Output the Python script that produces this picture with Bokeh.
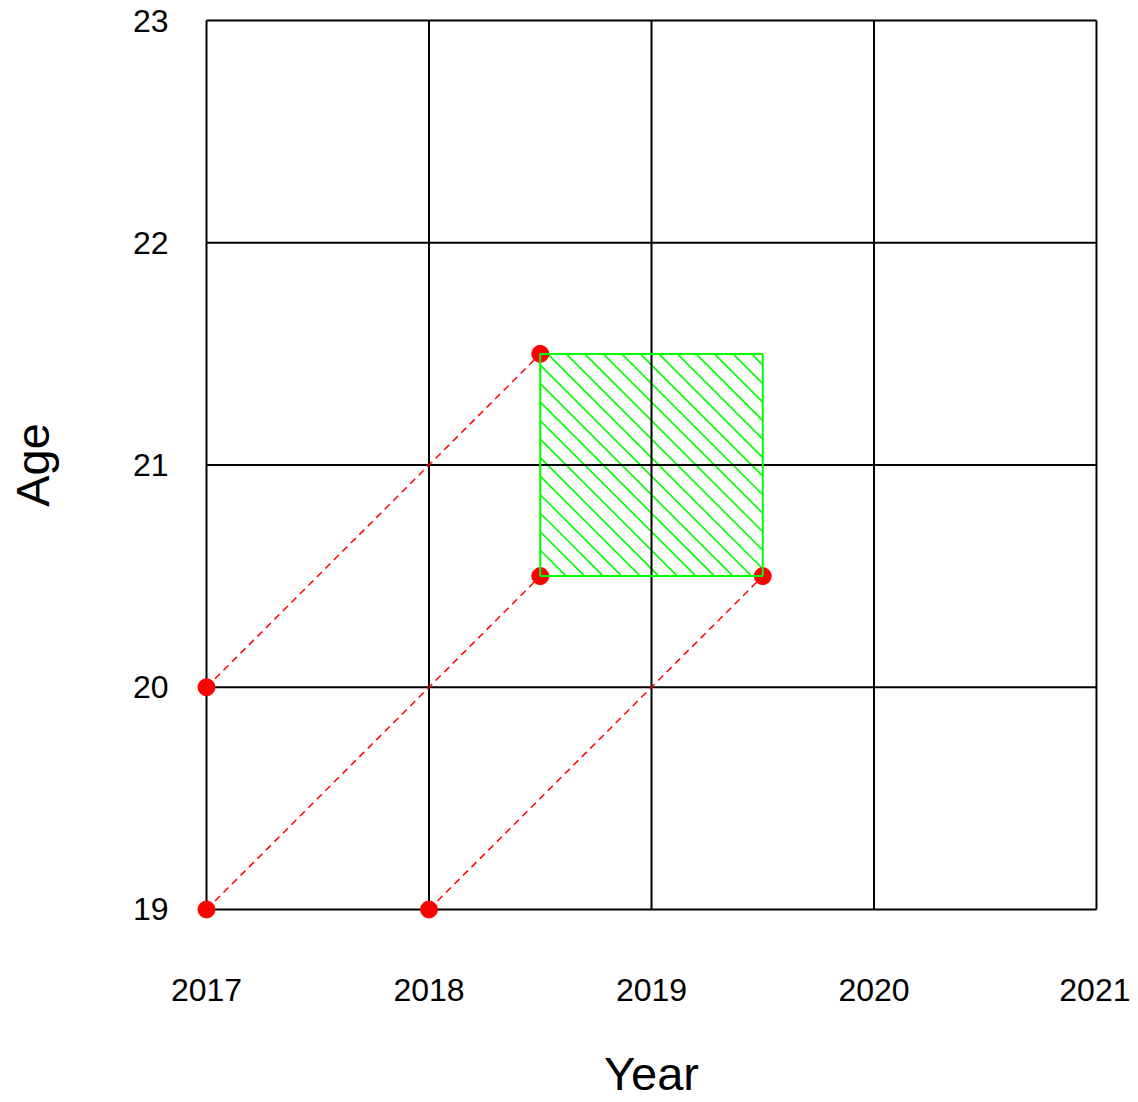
import numpy as np
from bokeh.plotting import figure
from bokeh.models import FixedTicker, Range1d
from bokeh.embed import file_html
from bokeh.resources import INLINE

years = [2017, 2018, 2019, 2020, 2021]
ages = [19, 20, 21, 22, 23]

point_x = [2017, 2017, 2018, 2018.5, 2018.5, 2019.5]
point_y = [20, 19, 19, 21.5, 20.5, 20.5]

seg_x0 = [2017, 2017, 2018]
seg_y0 = [20, 19, 19]
seg_x1 = [2018.5, 2018.5, 2019.5]
seg_y1 = [21.5, 20.5, 20.5]

rect_left = [2018.5]
rect_right = [2019.5]
rect_bottom = [20.5]
rect_top = [21.5]

FONT = "Liberation Sans"
PAD = 0.045          # small margin so the points at the box edge are not clipped
HATCH_STEP = 1 / 12  # spacing of the hatch lines (style)
HATCH_PHASE = 0.033

p = figure(width=1130, height=1102, output_backend="svg", toolbar_location=None,
           x_range=Range1d(years[0] - PAD, years[-1] + PAD),
           y_range=Range1d(ages[0] - PAD, ages[-1] + PAD),
           min_border_left=196, min_border_right=24, min_border_top=10, min_border_bottom=183)

p.xaxis.ticker = FixedTicker(ticks=years)
p.yaxis.ticker = FixedTicker(ticks=ages)
p.xaxis.major_label_overrides = {y: str(y) for y in years}

for ax in (p.xaxis, p.yaxis):
    ax.axis_line_color = None
    ax.major_tick_line_color = None
    ax.minor_tick_line_color = None
    ax.major_tick_out = 0
    ax.major_tick_in = 0
    ax.major_label_text_font = FONT
    ax.major_label_text_font_size = "32px"
    ax.major_label_text_color = "black"
    ax.axis_label_text_font = FONT
    ax.axis_label_text_font_size = "47px"
    ax.axis_label_text_font_style = "normal"
    ax.axis_label_text_color = "black"

p.xaxis.axis_label = "Year"
p.yaxis.axis_label = "Age"
p.xaxis.major_label_standoff = 59
p.yaxis.major_label_standoff = 28
p.xaxis.axis_label_standoff = 43
p.yaxis.axis_label_standoff = 71

p.grid.visible = False
p.outline_line_color = None
p.background_fill_color = "white"
p.border_fill_color = "white"

# hatch lines of the rectangle (x + y = c, clipped to the rectangle)
L, R, B, T = rect_left[0], rect_right[0], rect_bottom[0], rect_top[0]
cs = np.arange(L + B + HATCH_PHASE, R + T, HATCH_STEP)
hx0 = np.maximum(L, cs - T)
hx1 = np.minimum(R, cs - B)
p.segment(hx0, cs - hx0, hx1, cs - hx1, line_color="#00ff00", line_width=1.6)

# grid of the Lexis diagram
p.segment(years, [ages[0]] * len(years), years, [ages[-1]] * len(years),
          line_color="black", line_width=2)
p.segment([years[0]] * len(ages), ages, [years[-1]] * len(ages), ages,
          line_color="black", line_width=2)

p.segment(seg_x0, seg_y0, seg_x1, seg_y1, line_color="#ff0000", line_width=1.5, line_dash="7 5")
p.scatter(point_x, point_y, size=17, fill_color="#ff0000", line_color="#ff0000")
p.quad(left=rect_left, right=rect_right, bottom=rect_bottom, top=rect_top,
       fill_color=None, line_color="#00ff00", line_width=2)

open("out.html", "w").write(file_html(p, INLINE))
